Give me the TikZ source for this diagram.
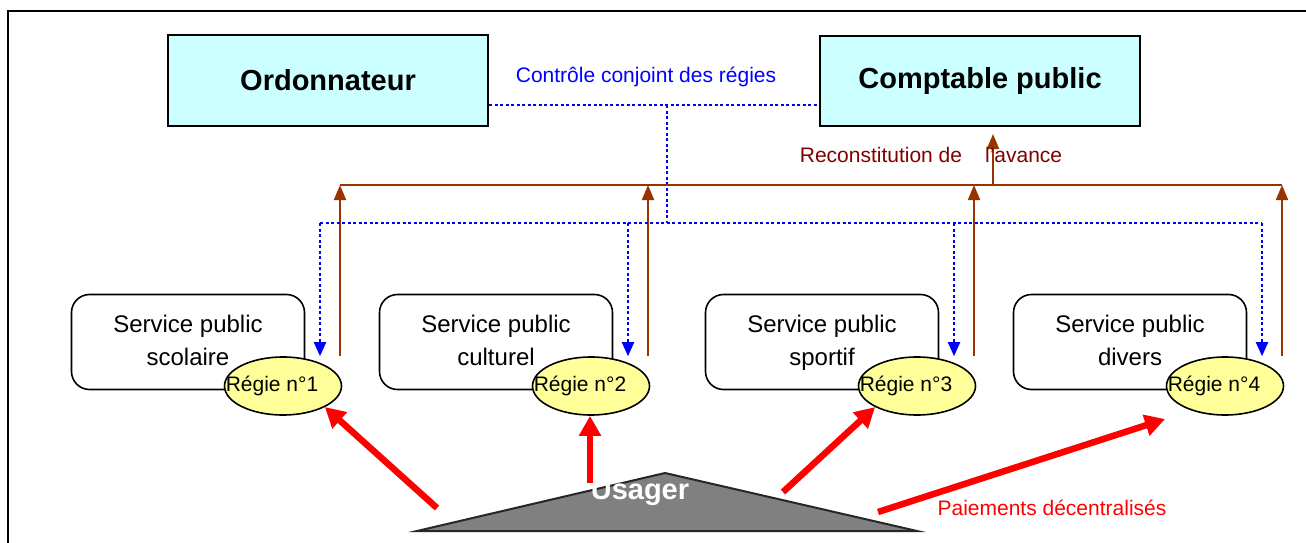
\documentclass[tikz,border=0pt]{standalone}
\usepackage{fontspec}
\setmainfont{Liberation Sans}
\usetikzlibrary{arrows.meta,shapes.geometric}

\definecolor{chefcyan}{HTML}{CCFFFF}
\definecolor{regiejaune}{HTML}{FFFF99}
\definecolor{brun}{HTML}{993300}
\definecolor{marron}{HTML}{800000}
\definecolor{gris}{HTML}{808080}

\begin{document}
\begin{tikzpicture}[x=1pt,y=-1pt,
                    chef/.style={draw,line width=2pt,fill=chefcyan,minimum width=320pt,minimum height=90pt,
                                 font=\fontsize{29}{34}\selectfont\bfseries},
                    service/.style={draw,line width=1.6pt,rounded corners=18pt,minimum width=233pt,minimum height=95pt,
                                    align=center,font=\fontsize{24}{33}\selectfont},
                    regie/.style={ellipse,draw,line width=1.6pt,fill=regiejaune,minimum width=117pt,minimum height=58pt,
                                  inner sep=0pt,font=\fontsize{21}{24}\selectfont},
                    ctrl/.style={blue,line width=2pt,dash pattern=on 3pt off 2.5pt,
                                 >={Triangle[length=14pt,width=12pt]}},
                    rec/.style={brun,line width=2pt,>={Triangle[length=15pt,width=12pt]}},
                    paie/.style={red,line width=6.5pt,->,>={Triangle[length=20pt,width=21pt]}},
                    usager/.style={text=white,font=\fontsize{29}{34}\selectfont\bfseries}]

  \useasboundingbox (0,0) rectangle (1306,543);

  % cadre
  \draw[line width=2pt] (8,543) -- (8,11) -- (1306,11);

  % ordonnateur et comptable
  \node[chef] (ord)  at (328,80.5) {Ordonnateur};
  \node[chef] (comp) at (980,81)   {Comptable public};

  % points de jonction
  \coordinate (ctl)      at (667,105);
  \coordinate (bus)      at (667,223);
  \coordinate (jonction) at (993,185);

  % contrôle conjoint (bleu)
  \draw[ctrl] (ord.east |- ctl) -- (comp.west |- ctl);
  \draw[ctrl] (ctl) -- (bus);
  \node[blue,font=\fontsize{21}{24}\selectfont] (ctrltxt) at (646,77) {Contrôle conjoint des régies};

  % services et régies
  \foreach \x/\i/\w in {283/1/scolaire,591/2/culturel,917/3/sportif,1225/4/divers}{
    \node[service] (s\i) at (\x-95,342) {Service public\strut\hspace{8pt}\\\w\strut\rule[-8pt]{0pt}{0pt}};
    \node[regie]   (r\i) at (\x,386) {\makebox[0pt]{Régie n°\i\hspace{22pt}}};
    \coordinate (b\i) at ([xshift=37pt]r\i.north);
    \coordinate (a\i) at ([xshift=57pt]r\i.north);
    \draw[ctrl,->] (b\i |- bus) -- (b\i);
    \draw[rec,->]  (a\i) -- (a\i |- jonction);
  }
  \draw[ctrl] (b1 |- bus) -- (b4 |- bus);
  \draw[rec]  (a1 |- jonction) -- (a4 |- jonction);

  % reconstitution de l'avance
  \draw[rec,->,shorten >=7pt] (jonction) -- (jonction |- comp.south);
  \node[marron,font=\fontsize{21}{24}\selectfont] (rectxt) at (931,155) {Reconstitution de\hspace{23pt}l'avance};

  % usager
  \coordinate (sommet) at (665,473);
  \coordinate (gauche) at (417,531);
  \coordinate (droite) at (917,531);
  \filldraw[fill=gris,draw=black!85,line width=2pt] (gauche) -- (sommet) -- (droite) -- cycle;
  \node[usager] (usager) at (640,493) {Usager};

  % paiements décentralisés
  \coordinate (p1) at (437,508);
  \coordinate (p2) at (590,483);
  \coordinate (p3) at (783,492);
  \coordinate (p4) at (878,512);
  \draw[paie] (p1) -- (r1.south east);
  \draw[paie] (p2) -- (p2 |- r2.south);
  \draw[paie] (p3) -- (r3.south west);
  \draw[paie] (p4) -- ([xshift=-18pt,yshift=-12pt]r4.south west);
  \node[red,font=\fontsize{21}{24}\selectfont] (paietxt) at (1052,508) {Paiements décentralisés};
\end{tikzpicture}
\end{document}
